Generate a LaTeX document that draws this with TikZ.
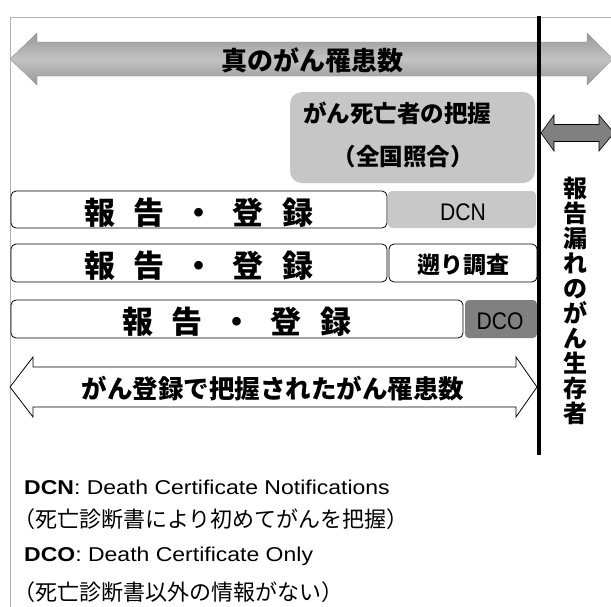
\documentclass[tikz,border=0pt]{standalone}
\usepackage{fontspec}
\newfontfamily\jp{Noto Sans CJK JP}
\newfontfamily\lat[FakeStretch=0.88]{Liberation Sans}
\newfontfamily\latw[FakeStretch=1.15]{Liberation Sans}
\definecolor{arrowmid}{HTML}{C2C2C2}
\definecolor{arrowedge}{HTML}{989898}
\definecolor{boxgray}{HTML}{C6C6C6}
\definecolor{dcngray}{HTML}{C8C8C8}
\definecolor{dcogray}{HTML}{808080}
\newcommand{\hokotext}{報\hspace{18.5pt}告\hspace{18.5pt}・\hspace{18.5pt}登\hspace{18.5pt}録}
\begin{document}
\begin{tikzpicture}[x=1pt,y=-1pt,
  rowbox/.style={draw=black, line width=0.8pt, fill=white, rounded corners=5pt},
  jpbold/.style={font=\jp\bfseries\fontsize{#1}{#1}\selectfont, inner sep=0pt},
  latlabel/.style={font=\lat\fontsize{24}{24}\selectfont, text=black, inner sep=0pt},
  note/.style={anchor=west, inner sep=0pt}]
\useasboundingbox (0,0) rectangle (611,606);
\fill[white] (0,0) rectangle (611,606);
% frame
\draw[gray!60, line width=1pt] (10.5,612) -- (10.5,17.5) -- (615,17.5);
% true incidence arrow
\shadedraw[top color=arrowedge, bottom color=arrowedge, middle color=arrowmid, draw=gray!90, line width=0.3pt]
  (10,59) -- (37,33) -- (37,42) -- (587,42) -- (587,33) -- (613,59) -- (587,85) -- (587,76) -- (37,76) -- (37,85) -- cycle;
\node[jpbold=26] (true) at (312,60) {真のがん罹患数};
% death grasp box
\fill[boxgray, rounded corners=12pt] (290,92) rectangle (535,183);
\node[jpbold=23.5, anchor=west] (death1) at (303,113) {がん死亡者の把握};
\node[jpbold=23.5] (death2) at (403,157) {（全国照合）};
% rows
\draw[rowbox] (11,191) rectangle (387,228);
\fill[dcngray, rounded corners=4pt] (388,191) rectangle (536,228);
\node[jpbold=31] (r1) at (199,212.5) {\hokotext};
\node[latlabel] (dcn) at (463,212) {DCN};
\draw[rowbox] (11,244) rectangle (387,282);
\draw[rowbox] (389,244) rectangle (537,282);
\node[jpbold=31] (r2) at (199,266) {\hokotext};
\node[jpbold=23] (sakan) at (463,265) {遡り調査};
\draw[rowbox] (11,300) rectangle (463,338);
\fill[dcogray, rounded corners=4pt] (465,300) rectangle (537,338);
\node[jpbold=31] (r3) at (237,322) {\hokotext};
\node[latlabel] (dco) at (500,321) {DCO};
% registered arrow
\draw[fill=white, line width=0.8pt]
  (10,387) -- (33,357) -- (33,367) -- (516,367) -- (516,357) -- (537,387) -- (516,417) -- (516,407) -- (33,407) -- (33,417) -- cycle;
\node[jpbold=25.5] (reg) at (273,389) {がん登録で把握されたがん罹患数};
% black divider
\draw[line width=4pt] (539,16) -- (539,455);
% small arrow
\filldraw[fill=dcogray, draw=black, line width=0.6pt]
  (541,133) -- (554,115) -- (554,124.5) -- (599,124.5) -- (599,115) -- (614,133) -- (599,151) -- (599,141.5) -- (554,141.5) -- (554,151) -- cycle;
% vertical text
\node[font=\jp\bfseries\fontsize{24}{25}\selectfont, align=center, inner sep=0pt] (surv) at (575,301)
  {報\\告\\漏\\れ\\の\\が\\ん\\生\\存\\者};
% notes
\node[note, font=\latw\fontsize{20}{20}\selectfont] (n1) at (24,487) {\textbf{DCN}: Death Certificate Notifications};
\node[note, font=\jp\fontsize{22}{22}\selectfont] (n2) at (13,519) {（死亡診断書により初めてがんを把握）};
\node[note, font=\latw\fontsize{20}{20}\selectfont] (n3) at (24,556) {\textbf{DCO}: Death Certificate Only};
\node[note, font=\jp\fontsize{22}{22}\selectfont] (n4) at (13,592) {（死亡診断書以外の情報がない）};
\end{tikzpicture}
\end{document}
